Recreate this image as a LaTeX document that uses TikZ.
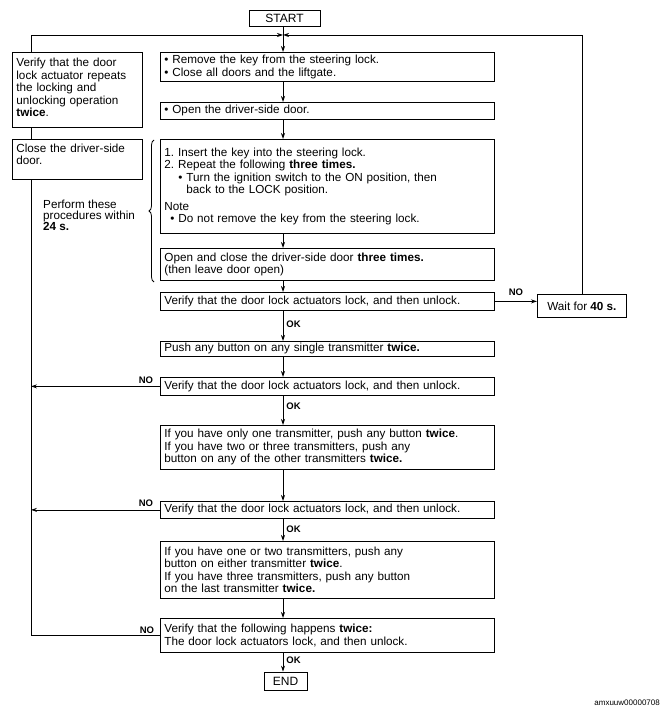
\documentclass[tikz,border=0pt]{standalone}
\usepackage{fontspec}
\setmainfont{Liberation Sans}
\usepackage{graphicx}
\usetikzlibrary{arrows.meta,decorations.pathreplacing}
\newcommand{\bul}{\textbullet\ }
\frenchspacing
\begin{document}
\begin{tikzpicture}[x=1pt,y=-1pt,
  box/.style={draw, line width=0.8pt, anchor=north west, inner xsep=4pt, inner ysep=0pt, align=left, font=\fontsize{11.7}{12.5}\selectfont},
  mbox/.style={box, text width=326pt},
  lbox/.style={box, text width=122pt},
  term/.style={draw, line width=0.8pt, inner sep=0pt, font=\fontsize{12}{12}\selectfont},
  line/.style={line width=0.8pt},
  arr/.style={line, -{Stealth[length=6pt,width=4pt]}},
  lab/.style={font=\fontsize{9.5}{10}\selectfont\bfseries, inner sep=0pt}
]
\useasboundingbox (0,0) rectangle (668,714);

\node[term, minimum width=71pt, minimum height=16pt] (start) at (284.5,18) {START};
\coordinate (jn) at (283,35);
\coordinate (lt) at (31,35);

\node[mbox, minimum height=29pt] (A) at (160,52) {\bul Remove the key from the steering lock.\\\bul Close all doors and the liftgate.};
\node[mbox, minimum height=17pt] (B) at (160,102) {\bul Open the driver-side door.};
\node[mbox, minimum height=94pt] (C) at (160,139) {1. Insert the key into the steering lock.\\
2. Repeat the following \textbf{three times.}\\
\hspace*{14pt}\bul Turn the ignition switch to the ON position, then\\
\hspace*{22pt}back to the LOCK position.\\[4pt]
Note\\
\hspace*{6pt}\bul Do not remove the key from the steering lock.};
\node[mbox, minimum height=32pt] (D) at (160,248) {Open and close the driver-side door \textbf{three times.}\\(then leave door open)};
\node[mbox, minimum height=18pt] (E) at (160,292) {Verify that the door lock actuators lock, and then unlock.};
\node[box, minimum width=89pt, minimum height=23pt] (wait) at (537,294) {Wait for \textbf{40 s.}};
\node[mbox, minimum height=15pt] (F) at (160,341) {Push any button on any single transmitter \textbf{twice.}};
\node[mbox, minimum height=18pt] (G) at (160,377) {Verify that the door lock actuators lock, and then unlock.};
\node[mbox, minimum height=44pt] (H) at (160,425) {If you have only one transmitter, push any button \textbf{twice}.\\If you have two or three transmitters, push any\\button on any of the other transmitters \textbf{twice.}};
\node[mbox, minimum height=17pt] (I) at (160,501) {Verify that the door lock actuators lock, and then unlock.};
\node[mbox, minimum height=57pt] (J) at (160,541) {If you have one or two transmitters, push any\\button on either transmitter \textbf{twice}.\\If you have three transmitters, push any button\\on the last transmitter \textbf{twice.}};
\node[mbox, minimum height=34pt] (K) at (160,618) {Verify that the following happens \textbf{twice:}\\The door lock actuators lock, and then unlock.};
\node[term, minimum width=43pt, minimum height=18pt] (end) at (285.5,681) {END};

\node[lbox, minimum height=75pt] (V) at (12,52) {Verify that the door\\lock actuator repeats\\the locking and\\unlocking operation\\\textbf{twice}.\\[-8pt]\mbox{}};
\node[lbox, minimum height=40pt] (cl) at (12,139) {Close the driver-side\\door.\\[-2pt]\mbox{}};

\node[font=\fontsize{11.7}{11}\selectfont, align=left, anchor=north west, inner sep=0pt] (pt) at (43,200) {Perform these\\procedures within\\\textbf{24 s.}};
\coordinate (bb) at (154,282);
\coordinate (bt) at (154,140);
\draw[line, decorate, decoration={brace, amplitude=5pt}] (bb) -- (bt);

% main flow
\draw[line] (jn |- start.south) -- (jn);
\draw[arr] (jn) -- (jn |- A.north);
\draw[arr] (jn |- A.south) -- (jn |- B.north);
\draw[arr] (jn |- B.south) -- (jn |- C.north);
\draw[arr] (jn |- C.south) -- (jn |- D.north);
\draw[arr] (jn |- D.south) -- (jn |- E.north);
\draw[arr] (jn |- E.south) -- node[lab, right=3pt, pos=0.45]{OK} (jn |- F.north);
\draw[arr] (jn |- F.south) -- (jn |- G.north);
\draw[arr] (jn |- G.south) -- node[lab, right=3pt, pos=0.35]{OK} (jn |- H.north);
\draw[arr] (jn |- H.south) -- (jn |- I.north);
\draw[arr] (jn |- I.south) -- node[lab, right=3pt, pos=0.45]{OK} (jn |- J.north);
\draw[arr] (jn |- J.south) -- (jn |- K.north);
\draw[arr] (jn |- K.south) -- node[lab, right=3pt, pos=0.4]{OK} (jn |- end.north);

% NO branches
\draw[arr] (E.east) -- node[lab, above=5pt]{NO} (E.east -| wait.west);
\draw[arr] (wait.north) |- (jn);
\draw[arr] (G.west) -- (G.west -| lt);
\node[lab] (no2) at (146,380) {NO};
\draw[arr] (I.west) -- (I.west -| lt);
\node[lab] (no3) at (146,503) {NO};
\draw[line] (K.west) -| (cl.south -| lt);
\node[lab] (no4) at (147,630) {NO};
\draw[line] (cl.north -| lt) -- (V.south -| lt);
\draw[arr] (V.north -| lt) |- (jn);

\node[font=\fontsize{8}{8}\selectfont, anchor=east, inner sep=0pt] (foot) at (660,703) {amxuuw00000708};
\end{tikzpicture}
\end{document}
